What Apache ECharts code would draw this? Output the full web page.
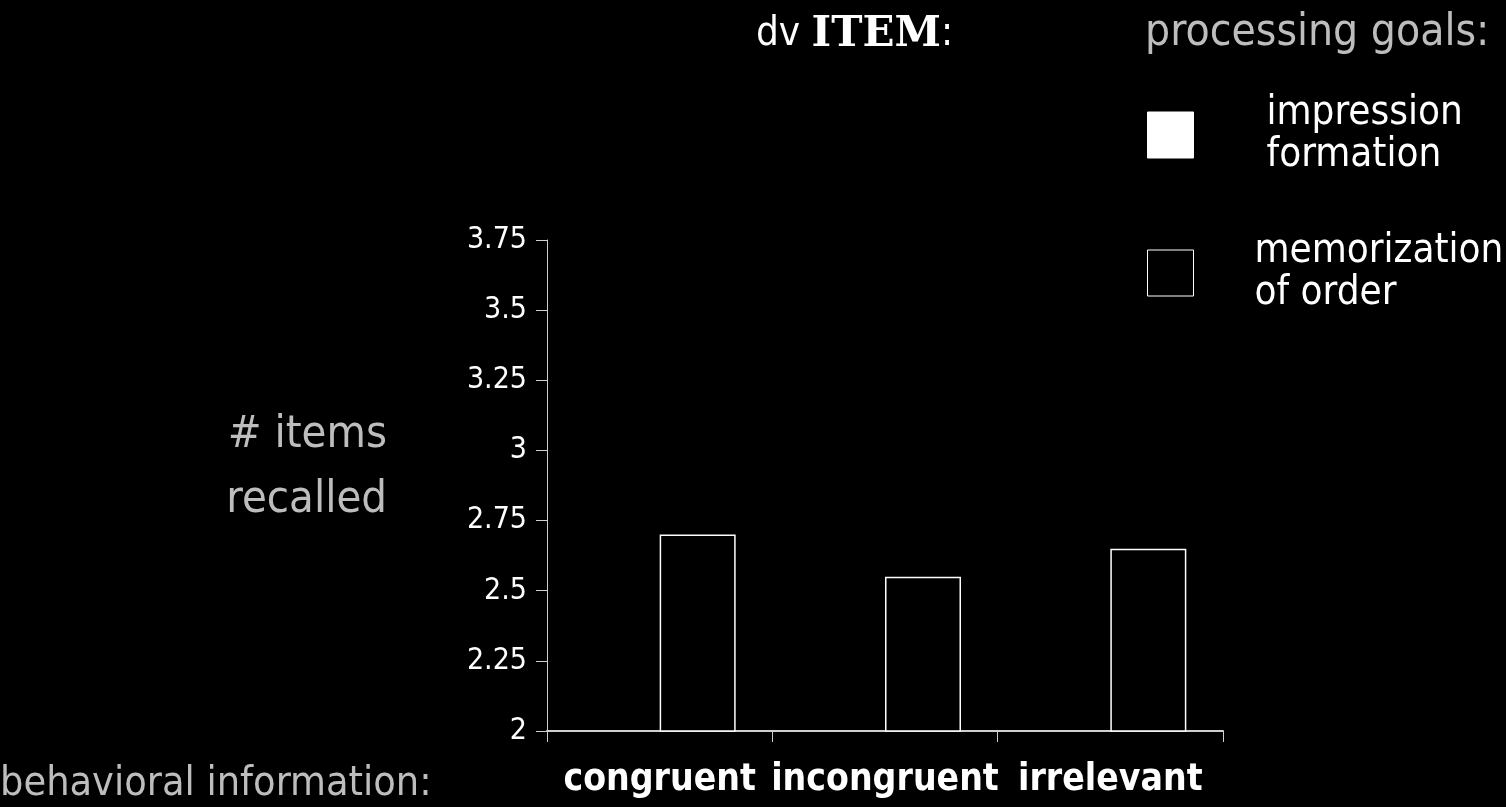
<!DOCTYPE html>
<html>
<head>
<meta charset="utf-8">
<script src="https://cdn.jsdelivr.net/npm/echarts@6/dist/echarts.min.js"></script>
<style>
html,body{margin:0;padding:0;background:#000;}
#chart{width:1506px;height:807px;}
</style>
</head>
<body>
<div id="chart"></div>
<script>
const categories = ['congruent', 'incongruent', 'irrelevant'];
const impressionFormation = [null, null, null];
const memorizationOfOrder = [2.70, 2.55, 2.65];
const yTicks = { min: 2, max: 3.75, interval: 0.25 };
const seriesNames = ['impression formation', 'memorization of order'];

const SANS = '"DejaVu Sans Condensed", "Liberation Sans Narrow", sans-serif';
const GRAY = '#bdbdbd';

const chart = echarts.init(document.getElementById('chart'));
chart.setOption({
  backgroundColor: '#000',
  animation: false,
  title: [{
    text: '{a|dv }{b|ITEM}{a|:}',
    left: 751, top: 9,
    textStyle: {
      rich: {
        a: { color: '#fff', fontFamily: SANS, fontWeight: 'normal', fontSize: 40 },
        b: { color: '#fff', fontFamily: '"DejaVu Serif", serif', fontWeight: 'bold', fontSize: 42 }
      }
    }
  }, {
    text: 'processing goals:',
    left: 1140, top: 7,
    textStyle: { color: GRAY, fontFamily: SANS, fontWeight: 'normal', fontSize: 44 }
  }],
  legend: {
    orient: 'vertical',
    left: 1142, top: 89,
    selectedMode: false,
    itemWidth: 46, itemHeight: 46,
    itemGap: 56,
    data: [
      { name: seriesNames[0], icon: 'rect', itemStyle: { color: '#fff', borderColor: '#fff', borderWidth: 1 } },
      { name: seriesNames[1], icon: 'rect', itemStyle: { color: '#000', borderColor: '#fff', borderWidth: 1 } }
    ],
    formatter: function (name) {
      if (name === seriesNames[0]) return '{a|impression}\n{a|formation}';
      return '{b|memorization}\n{b|of order}';
    },
    textStyle: {
      color: '#fff',
      rich: {
        a: { color: '#fff', fontFamily: SANS, fontSize: 40, lineHeight: 42, padding: [0, 0, 0, 68] },
        b: { color: '#fff', fontFamily: SANS, fontSize: 40, lineHeight: 42, padding: [0, 0, 0, 56] }
      }
    }
  },
  grid: { left: 547, right: 283, top: 240, bottom: 76, containLabel: false },
  xAxis: {
    type: 'category',
    data: categories,
    axisLine: { lineStyle: { color: '#cfcfcf', width: 2 } },
    axisTick: { show: true, length: 11, lineStyle: { color: '#cfcfcf', width: 1 } },
    axisLabel: { interval: 0, hideOverlap: false, color: '#fff', fontFamily: SANS, fontWeight: 'bold', fontSize: 37, margin: 31 }
  },
  yAxis: {
    type: 'value',
    min: yTicks.min, max: yTicks.max, interval: yTicks.interval,
    splitLine: { show: false },
    axisLine: { show: true, lineStyle: { color: '#cfcfcf', width: 1 } },
    axisTick: { show: true, length: 11, lineStyle: { color: '#cfcfcf', width: 1 } },
    axisLabel: { color: '#fff', fontFamily: SANS, fontSize: 30, margin: 20 }
  },
  series: [{
    name: seriesNames[0],
    type: 'bar',
    data: impressionFormation,
    barWidth: 76,
    barGap: '0%',
    itemStyle: { color: '#fff', borderColor: '#fff', borderWidth: 1 }
  }, {
    name: seriesNames[1],
    type: 'bar',
    data: memorizationOfOrder,
    barWidth: 76,
    barGap: '0%',
    itemStyle: { color: '#000', borderColor: '#fff', borderWidth: 1.5 }
  }],
  graphic: [{
    type: 'text',
    x: 387, y: 403,
    style: { text: '# items\nrecalled', fill: GRAY, font: '45px ' + SANS, lineHeight: 65, align: 'right' }
  }, {
    type: 'text',
    left: 0, top: 764,
    style: { text: 'behavioral information:', fill: GRAY, font: '41px ' + SANS }
  }]
});
</script>
</body>
</html>
